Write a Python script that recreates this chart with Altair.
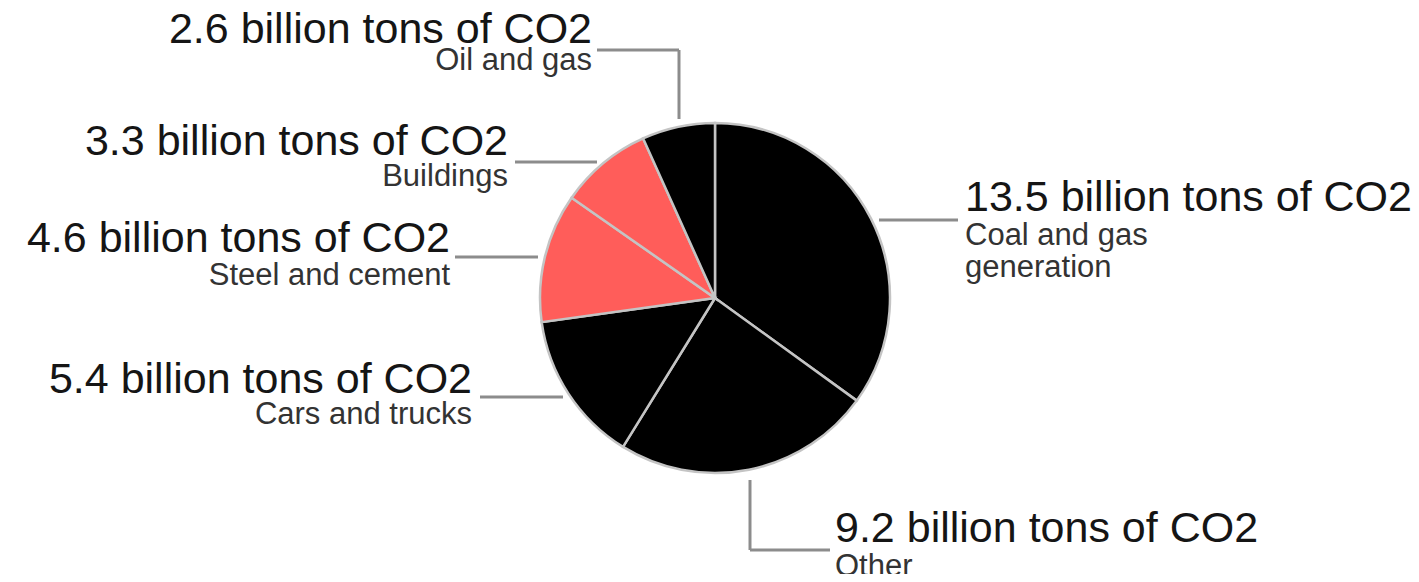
import altair as alt
import pandas as pd

# ---- data ----
sectors = ["Coal and gas generation", "Other", "Cars and trucks",
           "Steel and cement", "Buildings", "Oil and gas"]
emissions = [13.5, 9.2, 5.4, 4.6, 3.3, 2.6]          # billion tons of CO2
tones = ["dark", "dark", "dark", "red", "red", "dark"]

# subtitle lines per sector
subtitles = [["Coal and gas", "generation"], ["Other"], ["Cars and trucks"],
             ["Steel and cement"], ["Buildings"], ["Oil and gas"]]

# ---- layout of annotations (pixel positions in chart space) ----
OFF = 8  # page margin
CX, CY, R = 715 - OFF, 298 - OFF, 175

# label anchor: (x, main baseline, first subtitle baseline, align)
label_x = [965, 835, 472, 450, 508, 592]
label_main_y = [211, 542, 393, 252, 155, 43]
label_sub_y = [245, 576, 424, 285, 186, 70]
label_align = ["left", "left", "right", "right", "right", "right"]
sub_step = 32

# leader segments (x, y, x2, y2)
leaders = [
    (879, 220, 958, 220),     # coal
    (750, 480, 750, 550),     # other vertical
    (750, 550, 830, 550),     # other horizontal
    (480, 397, 563, 397),     # cars
    (455, 257, 538, 257),     # steel
    (515, 162, 597, 162),     # buildings
    (597, 50, 679, 50),       # oil horizontal
    (679, 50, 679, 119),      # oil vertical
]

pie_df = pd.DataFrame({
    "sector": sectors,
    "value": emissions,
    "tone": tones,
    "idx": list(range(len(sectors))),
})

rows_main, rows_sub = [], []
for i, s in enumerate(sectors):
    rows_main.append({"x": label_x[i] - OFF, "y": label_main_y[i] - OFF,
                      "text": f"{emissions[i]} billion tons of CO2",
                      "align": label_align[i]})
    for j, line in enumerate(subtitles[i]):
        rows_sub.append({"x": label_x[i] - OFF,
                         "y": label_sub_y[i] - OFF + j * sub_step,
                         "text": line, "align": label_align[i]})
main_df = pd.DataFrame(rows_main)
sub_df = pd.DataFrame(rows_sub)
lead_df = pd.DataFrame([{"x": a - OFF, "y": b - OFF, "x2": c - OFF, "y2": d - OFF}
                        for a, b, c, d in leaders])

pie = alt.Chart(pie_df).mark_arc(
    outerRadius=R, stroke="#c4c4c4", strokeWidth=2.5
).encode(
    theta=alt.Theta("value:Q", stack=True),
    order=alt.Order("idx:Q"),
    color=alt.Color("tone:N", scale=alt.Scale(domain=["dark", "red"],
                                              range=["#000000", "#ff5d5a"]),
                    legend=None),
    x=alt.value(CX),
    y=alt.value(CY),
)

lines = alt.Chart(lead_df).mark_rule(color="#8c8c8c", strokeWidth=3).encode(
    x=alt.X("x:Q", scale=None, axis=None),
    y=alt.Y("y:Q", scale=None, axis=None),
    x2="x2:Q",
    y2="y2:Q",
)


def text_layer(df, align, size, color):
    return alt.Chart(df).transform_filter(
        alt.datum.align == align
    ).mark_text(
        align=align, baseline="alphabetic", fontSize=size,
        font="Liberation Sans", color=color
    ).encode(
        x=alt.X("x:Q", scale=None, axis=None),
        y=alt.Y("y:Q", scale=None, axis=None),
        text="text:N",
    )


chart = alt.layer(
    pie, lines,
    text_layer(main_df, "left", 43, "#151515"),
    text_layer(main_df, "right", 43, "#151515"),
    text_layer(sub_df, "left", 31, "#333333"),
    text_layer(sub_df, "right", 31, "#333333"),
).properties(
    width=1403, height=566, padding=0, autosize="none"
).configure_view(stroke=None)

chart.save("out.html", embed_options={"renderer": "svg", "actions": False})
